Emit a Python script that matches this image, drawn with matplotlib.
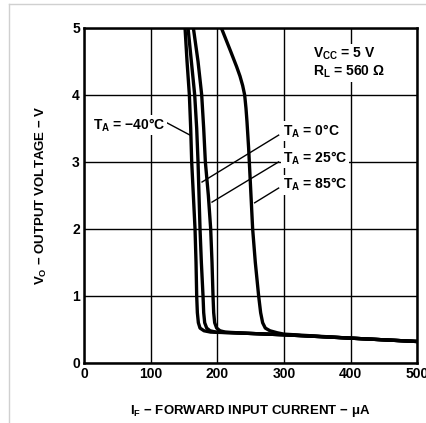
import matplotlib
matplotlib.use('Agg')
import matplotlib.pyplot as plt
from matplotlib.lines import Line2D

plt.rcParams['font.family'] = ['Liberation Sans', 'DejaVu Sans']
plt.rcParams['font.weight'] = 'bold'
plt.rcParams['mathtext.fontset'] = 'custom'
plt.rcParams['mathtext.rm'] = 'Liberation Sans:bold'
plt.rcParams['mathtext.it'] = 'Liberation Sans:bold'
plt.rcParams['mathtext.bf'] = 'Liberation Sans:bold'

# forward current (uA) / output voltage (V), one pair per temperature
i_m40 = [148, 151.5, 154.5, 158, 160, 161.5, 164, 166.5, 168, 169, 170, 171.5, 174, 180, 190, 250, 300, 400, 500]
v_m40 = [5.4, 5.0, 4.5, 4.0, 3.5, 3.0, 2.5, 2.0, 1.5, 1.0, 0.75, 0.6, 0.52, 0.48, 0.46, 0.44, 0.42, 0.37, 0.32]
i_0 = [152, 156, 161, 166, 169, 171, 172.5, 174, 176, 178.5, 179.5, 181, 184, 189, 198, 250, 300, 400, 500]
v_0 = [5.4, 5.0, 4.5, 4.0, 3.5, 3.0, 2.5, 2.0, 1.5, 1.0, 0.75, 0.6, 0.52, 0.48, 0.46, 0.44, 0.42, 0.37, 0.32]
i_25 = [159, 164, 171, 176.5, 179.5, 182, 186.5, 190, 192, 193.5, 194.5, 196, 199, 204, 212, 250, 300, 400, 500]
v_25 = [5.4, 5.0, 4.5, 4.0, 3.5, 3.0, 2.5, 2.0, 1.5, 1.0, 0.75, 0.6, 0.52, 0.48, 0.46, 0.44, 0.42, 0.37, 0.32]
i_85 = [203, 206, 212, 220, 229, 234, 238, 241, 243, 244.5, 247, 249, 251, 253, 257, 262, 265, 268, 272, 279, 290, 300, 400, 500]
v_85 = [5.4, 5.0, 4.85, 4.65, 4.42, 4.28, 4.14, 4.0, 3.8, 3.6, 3.2, 2.8, 2.4, 2.0, 1.5, 1.0, 0.75, 0.6, 0.52, 0.48, 0.45, 0.43, 0.37, 0.32]

x_ticks = [0, 100, 200, 300, 400, 500]
y_ticks = [0, 1, 2, 3, 4, 5]

fig = plt.figure(figsize=(4.27, 4.23), dpi=100)
ax = fig.add_axes([0.197, 0.142, 0.780, 0.792])

for xs, ys in [(i_m40, v_m40), (i_0, v_0), (i_25, v_25), (i_85, v_85)]:
    ax.plot(xs, ys, color='black', lw=2.4, solid_joinstyle='round', zorder=3)

ax.set_xlim(0, 500)
ax.set_ylim(0, 5)
ax.set_xticks(x_ticks)
ax.set_yticks(y_ticks)
ax.grid(True, color='black', lw=1.0)
ax.tick_params(length=0, labelsize=10, pad=3)
for s in ax.spines.values():
    s.set_linewidth(1.8)

ax.set_xlabel(r'I$_\mathregular{F}$ $-$ FORWARD INPUT CURRENT $-$ $\mu$A',
              fontsize=9.5, fontweight='bold', labelpad=16)
ax.set_ylabel(r'V$_\mathregular{O}$ $-$ OUTPUT VOLTAGE $-$ V',
              fontsize=9.5, fontweight='bold', labelpad=17)

box = dict(facecolor='white', edgecolor='none', pad=1)
ax.text(344, 4.62, r'V$_\mathregular{CC}$ = 5 V', fontsize=10, va='center', bbox=box)
ax.text(344, 4.34, r'R$_\mathregular{L}$ = 560 $\Omega$', fontsize=10, va='center', bbox=box)

ax.text(13, 3.55, r'T$_\mathregular{A}$ = $-$40°C', fontsize=10, va='center', bbox=box, zorder=5)
ax.plot([125, 159], [3.58, 3.40], color='black', lw=1.0, zorder=4)
ax.text(298, 3.46, r'T$_\mathregular{A}$ = 0°C', fontsize=10, va='center', bbox=box, zorder=5)
ax.plot([292, 177], [3.40, 2.70], color='black', lw=1.0, zorder=4)
ax.text(298, 3.06, r'T$_\mathregular{A}$ = 25°C', fontsize=10, va='center', bbox=box, zorder=5)
ax.plot([292, 192], [3.00, 2.40], color='black', lw=1.0, zorder=4)
ax.text(298, 2.66, r'T$_\mathregular{A}$ = 85°C', fontsize=10, va='center', bbox=box, zorder=5)
ax.plot([292, 256], [2.61, 2.39], color='black', lw=1.0, zorder=4)

# faint scan frame at the top and left edges
fig.add_artist(Line2D([0.02, 1.0], [0.99, 0.99], color='#d0d0d0', lw=1))
fig.add_artist(Line2D([0.021, 0.021], [0.0, 0.99], color='#d0d0d0', lw=1))

fig.savefig('out.png', dpi=100)
